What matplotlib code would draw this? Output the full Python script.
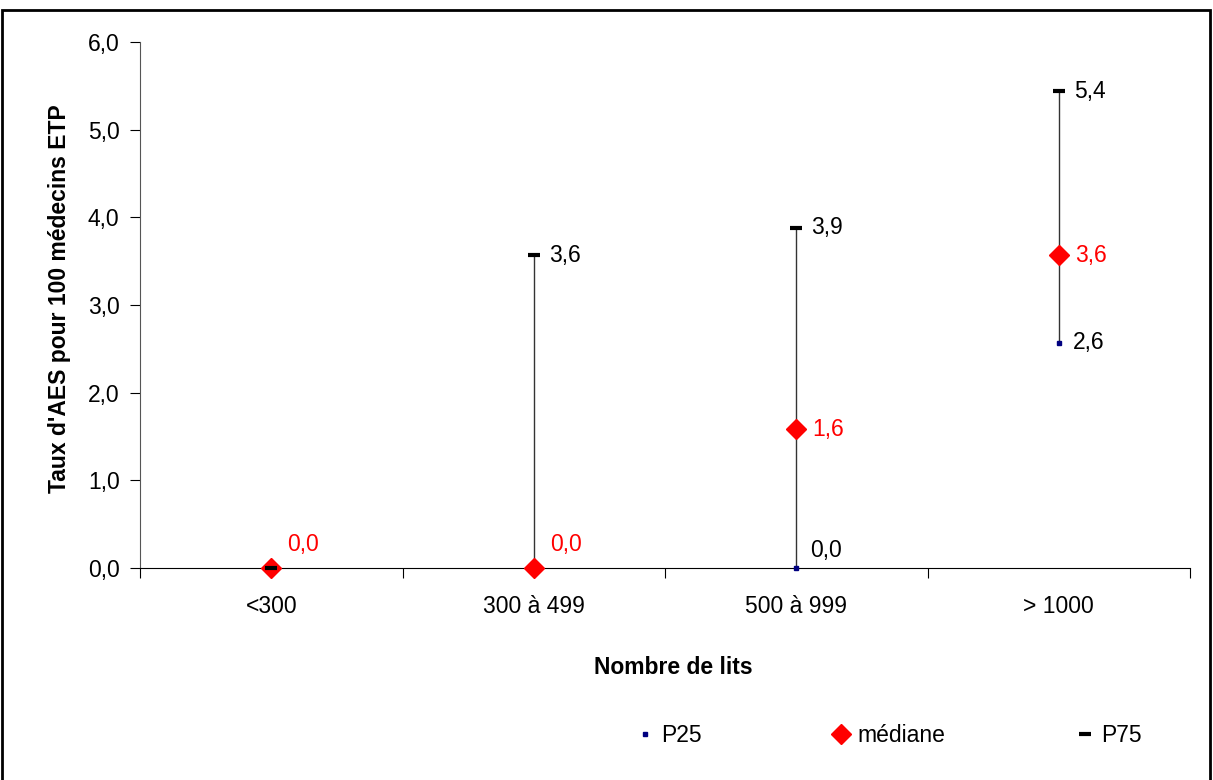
import matplotlib.pyplot as plt
from matplotlib.patches import Rectangle

plt.rcParams['font.family'] = ['Liberation Sans', 'DejaVu Sans']

categories = ['<300', '300 à 499', '500 à 999', '> 1000']
p25 = [0.0, 0.0, 0.0, 2.57]
mediane = [0.0, 0.0, 1.58, 3.57]
p75 = [0.0, 3.57, 3.88, 5.44]
# which points carry a data label
show_p25 = [False, False, True, True]
show_p75 = [False, True, True, True]

def fmt(v):
    return ('%.1f' % v).replace('.', ',')

fig = plt.figure(figsize=(12.13, 7.8), dpi=100)
ax = fig.add_axes([140 / 1213, 1 - 568 / 780, 1050 / 1213, 526 / 780])

x = [i + 0.5 for i in range(len(categories))]

ax.vlines(x, p25, p75, color='#333333', linewidth=1, zorder=2)
ax.plot(x, p25, linestyle='none', marker='s', markersize=3.4, color='#000080',
        label='P25', zorder=3, clip_on=False)
ax.plot(x, mediane, linestyle='none', marker='D', markersize=10, color='#ff0000',
        label='médiane', zorder=4, clip_on=False)
ax.plot(x, p75, linestyle='none', marker='_', markersize=8, markeredgewidth=3,
        color='black', label='P75', zorder=5, clip_on=False)

fs = 16.5
for xi, a, m, b, s25, s75 in zip(x, p25, mediane, p75, show_p25, show_p75):
    dy = 23 if m == 0 else 0
    ax.annotate(fmt(m), (xi, m), xytext=(16, dy), textcoords='offset pixels',
                color='#ff0000', fontsize=fs, va='center', ha='left')
    if s25:
        dy = 17 if a == 0 else 0
        ax.annotate(fmt(a), (xi, a), xytext=(14, dy), textcoords='offset pixels',
                    color='black', fontsize=fs, va='center', ha='left')
    if s75:
        ax.annotate(fmt(b), (xi, b), xytext=(15, 0), textcoords='offset pixels',
                    color='black', fontsize=fs, va='center', ha='left')

ax.set_xlim(0, 4)
ax.set_ylim(0, 6)
ax.set_yticks([0, 1, 2, 3, 4, 5, 6])
ax.set_yticklabels([fmt(v) for v in range(7)], fontsize=fs)
ax.set_xticks([0, 1, 2, 3, 4])
ax.set_xticklabels([])
ax.set_xticks(x, minor=True)
ax.set_xticklabels(categories, minor=True, fontsize=fs)
ax.tick_params(axis='x', which='major', direction='out', length=7, width=0.8)
ax.tick_params(axis='x', which='minor', length=0, pad=19.5)
ax.tick_params(axis='y', direction='out', length=7, width=0.8, pad=7.7)

for side in ['top', 'right']:
    ax.spines[side].set_visible(False)
ax.spines['left'].set_color('#555555')
ax.spines['left'].set_linewidth(0.8)
ax.spines['bottom'].set_linewidth(0.8)

ax.set_xlabel('Nombre de lits', fontsize=fs, fontweight='bold', labelpad=20)
ax.xaxis.set_label_coords((673 - 140) / 1050, -(667 - 568) / 526)
ax.set_ylabel("Taux d'AES pour 100 médecins ETP", fontsize=fs, fontweight='bold')
ax.yaxis.set_label_coords(-(140 - 60) / 1050, (568 - 299) / 526)
ax.xaxis.label.set_va('center')
ax.yaxis.label.set_va('center')

fig.legend(loc='center', bbox_to_anchor=(890 / 1213, 1 - 736 / 780), ncol=3,
           frameon=False, fontsize=fs, handlelength=0.6, handletextpad=0.4,
           columnspacing=5.8)

fig.patches.append(Rectangle((2 / 1213, -0.02), 1208 / 1213, 1 - 10 / 780 + 0.02,
                             transform=fig.transFigure, fill=False,
                             edgecolor='black', linewidth=2))

fig.savefig('out.png', dpi=100)
